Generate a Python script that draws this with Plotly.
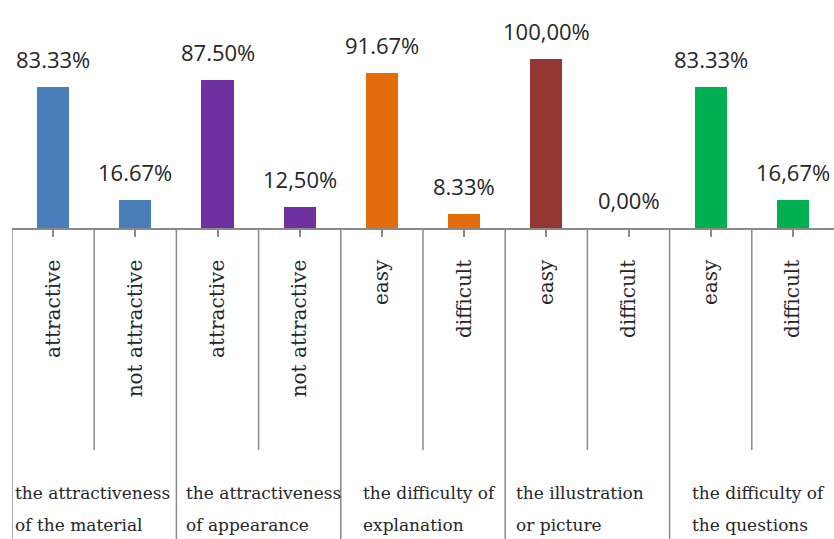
import plotly.graph_objects as go

# ---- data ----
group_labels = [
    "the attractiveness\nof the material",
    "the attractiveness\nof appearance",
    "the difficulty of\nexplanation",
    "the illustration\nor picture",
    "the difficulty of\nthe questions",
]
sub_labels = ["attractive", "not attractive", "attractive", "not attractive",
              "easy", "difficult", "easy", "difficult", "easy", "difficult"]
values = [83.33, 16.67, 87.50, 12.50, 91.67, 8.33, 100.00, 0.00, 83.33, 16.67]
value_labels = ["83.33%", "16.67%", "87.50%", "12,50%", "91.67%", "8.33%",
                "100,00%", "0,00%", "83.33%", "16,67%"]
group_colors = ["#4A7EBB", "#7030A0", "#E46C0A", "#943634", "#00B050"]

# ---- style ----
W, H = 834, 539
ML, MT, MB = 12, 0, 311
plot_h = H - MT - MB
px_per_100 = 169
line_col = "#8a8a8a"
serif = "DejaVu Serif, Liberation Serif, serif"
group_label_xshift = [1, 8, 20, 9, 20]   # pixel pad of group text from group start
group_line_y_px = [493, 525]             # centre of first/second text line (page px)
sub_line_bottom_px = 450

n = len(values)
xs = list(range(n))
bar_colors = [group_colors[i // 2] for i in xs]

fig = go.Figure()
fig.add_trace(go.Bar(
    x=xs, y=values, marker=dict(color=bar_colors, line=dict(width=0)),
    width=0.39, hoverinfo="skip", showlegend=False,
))

def paper_y(px):
    return (MT + plot_h - px) / plot_h

annotations = []
for x, v, t in zip(xs, values, value_labels):
    annotations.append(dict(
        x=x, y=v, xref="x", yref="y", text=t, showarrow=False,
        yanchor="bottom", yshift=11,
        font=dict(family="Open Sans", size=22, color="#262626"),
    ))

shapes = []
for g, lab in enumerate(group_labels):
    start = 2 * g - 0.5
    shapes.append(dict(type="line", xref="x", yref="paper", x0=start, x1=start,
                       y0=0, y1=paper_y(H), line=dict(color=line_col, width=1.5)))
    mid = start + 1
    shapes.append(dict(type="line", xref="x", yref="paper", x0=mid, x1=mid,
                       y0=0, y1=paper_y(sub_line_bottom_px),
                       line=dict(color=line_col, width=1.5)))
    for li, line_text in enumerate(lab.split("\n")):
        annotations.append(dict(
            x=start, y=paper_y(group_line_y_px[li]), xref="x", yref="paper",
            text=line_text, showarrow=False, xanchor="left", yanchor="middle",
            xshift=group_label_xshift[g],
            font=dict(family=serif, size=17, color="#262626"),
        ))

fig.update_layout(
    width=W, height=H,
    margin=dict(l=ML, r=0, t=MT, b=MB, pad=0),
    paper_bgcolor="white", plot_bgcolor="white",
    bargap=0,
    font=dict(family=serif),
    annotations=annotations, shapes=shapes,
    xaxis=dict(
        range=[-0.5, n - 0.5], tickmode="array", tickvals=xs, ticktext=sub_labels,
        tickangle=-90, ticks="outside", ticklen=7, tickcolor=line_col, tickwidth=1.5,
        showline=True, linecolor=line_col, linewidth=1.5, showgrid=False,
        zeroline=False, ticklabelstandoff=15,
        tickfont=dict(family=serif, size=20, color="#262626"),
    ),
    yaxis=dict(
        range=[0, 100 * plot_h / px_per_100], visible=False, showgrid=False,
        zeroline=False,
    ),
)

fig.write_html("out.html")
